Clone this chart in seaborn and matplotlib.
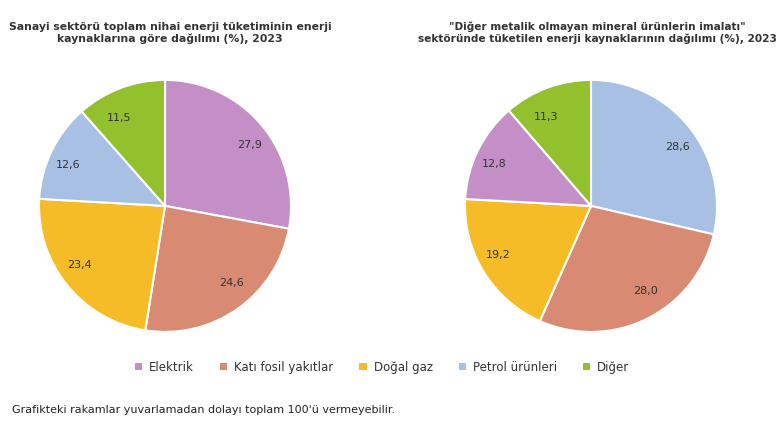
import matplotlib
matplotlib.use("Agg")
import matplotlib.pyplot as plt
import seaborn as sns
from matplotlib.patches import Patch

sns.set_theme(style="white")

categories = ["Elektrik", "Katı fosil yakıtlar", "Doğal gaz", "Petrol ürünleri", "Diğer"]
left_values = [27.9, 24.6, 23.4, 12.6, 11.5]
right_order = ["Petrol ürünleri", "Katı fosil yakıtlar", "Doğal gaz", "Elektrik", "Diğer"]
right_values = [28.6, 28.0, 19.2, 12.8, 11.3]
left_title = "Sanayi sektörü toplam nihai enerji tüketiminin enerji\nkaynaklarına göre dağılımı (%), 2023"
right_title = "\"Diğer metalik olmayan mineral ürünlerin imalatı\"\nsektöründe tüketilen enerji kaynaklarının dağılımı (%), 2023"
footnote = "Grafikteki rakamlar yuvarlamadan dolayı toplam 100'ü vermeyebilir."

palette = sns.color_palette(["#C48FC6", "#D98A72", "#F6BC27", "#A8C0E3", "#93C02D"])
cmap = dict(zip(categories, palette))

fig = plt.figure(figsize=(7.8, 4.4), dpi=100)
fig.patch.set_facecolor("white")

def draw(cx, cats, vals):
    w, h = 252 / 780, 252 / 440
    ax = fig.add_axes([cx - w / 2, 0.532 - h / 2, w, h])
    ax.pie(vals, colors=[cmap[c] for c in cats], startangle=90, counterclock=False,
           labels=[f"{v:.1f}".replace(".", ",") for v in vals], labeldistance=0.75,
           radius=1.0, wedgeprops=dict(edgecolor="white", linewidth=1.5),
           textprops=dict(fontsize=8, color="#333333"))
    ax.set_xlim(-1.0, 1.0)
    ax.set_ylim(-1.0, 1.0)
    ax.set_aspect("equal")
    return ax

draw(165 / 780, categories, left_values)
draw(591 / 780, right_order, right_values)

fig.text(170 / 780, 1 - 33 / 440, left_title, ha="center", va="center", fontsize=7.8,
         fontweight="bold", color="#333333")
fig.text(597 / 780, 1 - 33 / 440, right_title, ha="center", va="center", fontsize=7.6,
         fontweight="bold", color="#333333")

handles = [Patch(facecolor=cmap[c], edgecolor="none") for c in categories]
fig.legend(handles, categories, loc="center", bbox_to_anchor=(0.49, 1 - 367 / 440), ncol=5,
           frameon=False, fontsize=8.5, handlelength=0.6, handleheight=0.6, columnspacing=2.2,
           handletextpad=0.6, labelcolor="#333333")
fig.text(12 / 780, 1 - 410 / 440, footnote, ha="left", va="center", fontsize=8, color="#222222")

fig.savefig("out.png", dpi=100, facecolor="white")
